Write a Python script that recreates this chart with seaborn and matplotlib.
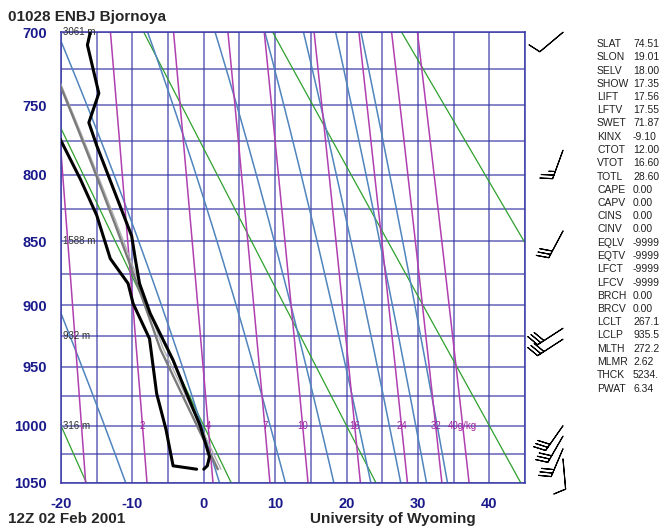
import numpy as np
import pandas as pd
import matplotlib
matplotlib.use("Agg")
import matplotlib.pyplot as plt
import matplotlib.transforms as mtransforms
import seaborn as sns

sns.set_style("white")
plt.rcParams['font.family'] = ['Liberation Sans', 'DejaVu Sans']

# ---------------- data ----------------
station_title = "01028 ENBJ Bjornoya"
time_label = "12Z 02 Feb 2001"
credit_label = "University of Wyoming"

pressure_ticks = [700, 750, 800, 850, 900, 950, 1000, 1050]
temp_ticks = [-20, -10, 0, 10, 20, 30, 40]

# environmental temperature profile (hPa, degC)
snd_p = [700, 708.5, 741.6, 762.2, 778.6, 845.8, 863.2, 882.7, 906.6, 944.6, 972.6, 1000, 1027, 1035, 1038]
snd_t = [-15.9, -16.3, -14.7, -16.1, -15.0, -10.1, -9.6, -9.0, -7.5, -4.3, -2.4, -0.5, 0.8, 0.5, 0.0]

# dewpoint profile
dew_p = [755, 775.2, 803, 830, 863.2, 882.7, 898.6, 927, 972.6, 1003, 1035, 1038]
dew_t = [-22.0, -20.0, -17.3, -15.0, -13.1, -10.6, -9.9, -7.6, -6.6, -5.3, -4.3, -1.0]

# mixed-layer parcel parameters (from the index table)
ml_theta = 272.2      # K
ml_mixr = 2.62        # g/kg
lcl_p = 935.5         # hPa
sfc_p = 1038.0        # hPa

# height labels
height_p = [700, 850, 925, 1000]
height_txt = ["3061 m", "1588 m", "932 m", "316 m"]

# background line families
dry_theta_c = [-20, 0, 20, 40, 60, 80]                         # degC potential temperature
moist_t1000 = [-13.9, -0.3, 9.3, 16.35, 21.7, 26.0, 29.7, 32.7]  # degC at 1000 hPa
mixr_lines = [1, 2, 4, 7, 10, 16, 24, 32, 40]                   # g/kg
mixr_labels = [2, 4, 7, 10, 16, 24, 32, 40]

# wind barbs
wind_p = [700, 782, 842, 918.5, 927.4, 1000, 1009, 1020, 1029]
wind_dir = [230, 200, 208, 237, 237, 215, 210, 203, 175]
wind_spd = [10, 25, 30, 30, 30, 30, 30, 30, 10]

# stability indices
idx_names = ["SLAT", "SLON", "SELV", "SHOW", "LIFT", "LFTV", "SWET", "KINX", "CTOT",
             "VTOT", "TOTL", "CAPE", "CAPV", "CINS", "CINV", "EQLV", "EQTV", "LFCT",
             "LFCV", "BRCH", "BRCV", "LCLT", "LCLP", "MLTH", "MLMR", "THCK", "PWAT"]
idx_values = ["74.51", "19.01", "18.00", "17.35", "17.56", "17.55", "71.87", "-9.10", "12.00",
              "16.60", "28.60", "0.00", "0.00", "0.00", "0.00", "-9999", "-9999", "-9999",
              "-9999", "0.00", "0.00", "267.1", "935.5", "272.2", "2.62", "5234.", "6.34"]

# ---------------- thermodynamics helpers ----------------
KAPPA = 0.2857
EPS = 0.622


def sat_vp(tc):
    return 6.112 * np.exp(17.67 * tc / (tc + 243.5))


def dTdp_moist(p, T):
    tc = T - 273.15
    es = sat_vp(tc)
    rs = EPS * es / (p - es)
    Rd, Cp, Lv = 287.04, 1005.7, 2.501e6
    num = (Rd * T + Lv * rs) / p
    den = Cp + (Lv * Lv * rs * EPS) / (Rd * T * T)
    return num / den


def integrate_moist(T0, p0, p_end, dp=1.0):
    step = -dp if p_end < p0 else dp
    ps = [p0]
    Ts = [T0]
    p, T = p0, T0
    n = int(abs(p_end - p0) / dp)
    for _ in range(n):
        k1 = dTdp_moist(p, T)
        k2 = dTdp_moist(p + step / 2, T + step / 2 * k1)
        k3 = dTdp_moist(p + step / 2, T + step / 2 * k2)
        k4 = dTdp_moist(p + step, T + step * k3)
        T = T + step / 6 * (k1 + 2 * k2 + 2 * k3 + k4)
        p = p + step
        ps.append(p)
        Ts.append(T)
    return np.array(ps), np.array(Ts)


def td_from_w(w_gkg, p):
    w = w_gkg / 1000.0
    e = w * p / (EPS + w)
    l = np.log(e / 6.112)
    return 243.5 * l / (17.67 - l)


# ---------------- figure ----------------
W, H = 659, 526
fig = plt.figure(figsize=(W / 100, H / 100), dpi=100)
ax = fig.add_axes([61 / W, 1 - 482.7 / H, 464 / W, 450.4 / H])

grid_col = "#3a3aa6"
tick_col = "#1a1a8c"

# sounding lines with seaborn (linear axis first, scale applied afterwards)
snd = pd.DataFrame({"p": snd_p, "t": snd_t})
dew = pd.DataFrame({"p": dew_p, "t": dew_t})

# parcel path
p_dry = np.linspace(sfc_p, lcl_p, 30)
t_dry = ml_theta * (p_dry / 1000.0) ** KAPPA
p_mst, t_mst = integrate_moist(t_dry[-1], lcl_p, 690.0, dp=1.0)
par_p = np.concatenate([p_dry, p_mst[1:]])
par_T = np.concatenate([t_dry, t_mst[1:]])
par_w = np.concatenate([np.full(len(p_dry), ml_mixr / 1000.0),
                        EPS * sat_vp(t_mst[1:] - 273.15) / (p_mst[1:] - sat_vp(t_mst[1:] - 273.15))])
par_tv = par_T * (1 + 0.61 * par_w)
parcel = pd.DataFrame({"p": par_p, "t": par_T - 273.15, "tv": par_tv - 273.15})

sns.lineplot(data=parcel, x="tv", y="p", sort=False, estimator=None, ax=ax,
             color="#b0b0b0", lw=1.0, zorder=5)
sns.lineplot(data=parcel, x="t", y="p", sort=False, estimator=None, ax=ax,
             color="#7a7a7a", lw=1.7, zorder=6)
sns.lineplot(data=snd, x="t", y="p", sort=False, estimator=None, ax=ax,
             color="black", lw=2.2, zorder=7)
sns.lineplot(data=dew, x="t", y="p", sort=False, estimator=None, ax=ax,
             color="black", lw=2.2, zorder=7)

# y axis in p^kappa
ax.set_yscale("function", functions=(lambda p: np.abs(p) ** KAPPA,
                                     lambda y: np.abs(y) ** (1 / KAPPA)))
ax.set_ylim(1050, 700)
ax.set_xlim(-20, 45)

pp = np.linspace(690, 1060, 200)

# isotherms / isobars
for t in range(-20, 50, 5):
    ax.axvline(t, color=grid_col, lw=1.1, alpha=0.8, zorder=1)
for p in range(700, 1075, 25):
    ax.axhline(p, color=grid_col, lw=1.1, alpha=0.8, zorder=1)

# dry adiabats
for th in dry_theta_c:
    ax.plot((th + 273.15) * (pp / 1000.0) ** KAPPA - 273.15, pp, color="#2ea02e", lw=0.9, zorder=2)

# moist adiabats
for t0 in moist_t1000:
    pu, tu = integrate_moist(t0 + 273.15, 1000.0, 690.0)
    pd_, td_ = integrate_moist(t0 + 273.15, 1000.0, 1060.0)
    pm = np.concatenate([pu[::-1], pd_[1:]])
    tm = np.concatenate([tu[::-1], td_[1:]]) - 273.15
    ax.plot(tm, pm, color="#4f84bd", lw=1.1, zorder=2)

# mixing ratio lines
for w in mixr_lines:
    ax.plot(td_from_w(w, pp), pp, color="#b040b0", lw=1.1, zorder=2)
for w in mixr_labels:
    txt = f"{w}g/kg" if w == mixr_labels[-1] else f"{w}"
    ax.text(td_from_w(w, 1000.0), 1000, txt, color="#a020a0", fontsize=7,
            ha="center", va="center", zorder=3)

# height labels
for p, s in zip(height_p, height_txt):
    ax.text(-19.7, p, s, fontsize=7, color="#303030", ha="left", va="center", zorder=8)

# ticks
ax.set_yticks(pressure_ticks)
ax.set_yticklabels([str(p) for p in pressure_ticks])
ax.set_xticks(temp_ticks)
ax.set_xticklabels([str(t) for t in temp_ticks])
ax.minorticks_off()
ax.tick_params(axis="both", length=0, labelsize=10.5, labelcolor=tick_col)
ax.tick_params(axis="y", pad=10)
ax.tick_params(axis="x", pad=10)
for lab in ax.get_xticklabels() + ax.get_yticklabels():
    lab.set_fontweight("bold")
ax.set_xlabel("")
ax.set_ylabel("")
for s in ax.spines.values():
    s.set_color(grid_col)
    s.set_linewidth(1.1)

# wind barbs outside the plot on the right
d = np.deg2rad(np.array(wind_dir, dtype=float))
spd = np.array(wind_spd, dtype=float)
u = -spd * np.sin(d)
v = -spd * np.cos(d)
btrans = mtransforms.blended_transform_factory(ax.transAxes, ax.transData)
bx = np.full(len(wind_p), (563 - 61) / 464)
b = ax.barbs(bx, wind_p, u, v, transform=btrans, length=6.6, lw=0.8, color="black",
             clip_on=False, zorder=9)

# texts
fig.text(8 / W, 1 - 17 / H, station_title, fontsize=11, fontweight="bold", ha="left", va="center")
fig.text(8 / W, 1 - 519 / H, time_label, fontsize=11, fontweight="bold", ha="left", va="center")
fig.text(393 / W, 1 - 519 / H, credit_label, fontsize=11, fontweight="bold", ha="center", va="center")

y0, dy = 44, 13.25
for i, (n, val) in enumerate(zip(idx_names, idx_values)):
    yy = 1 - (y0 + i * dy) / H
    fig.text(597 / W, yy, n, fontsize=7.5, ha="left", va="center", color="#202020")
    fig.text(633 / W, yy, val, fontsize=7.5, ha="left", va="center", color="#202020")

fig.savefig("out.png", dpi=100)
